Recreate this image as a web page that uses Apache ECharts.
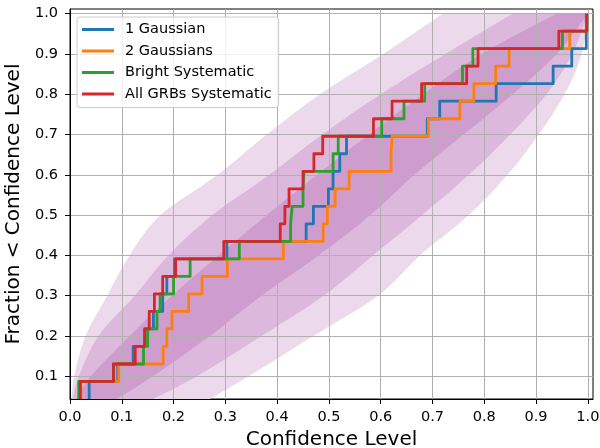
<!DOCTYPE html>
<html>
<head>
<meta charset="utf-8">
<script src="https://cdn.jsdelivr.net/npm/echarts@6/dist/echarts.min.js"></script>
<style>
    html, body { margin: 0; padding: 0; background: #fff; }
    #chart { width: 600px; height: 448px; }
</style>
</head>
<body>
<div id="chart"></div>
<script>
    // fraction of GRBs (y value of every step level)
    var fractions = [0.0435, 0.087, 0.1304, 0.1739, 0.2174, 0.2609, 0.3043, 0.3478, 0.3913, 0.4348, 0.4783, 0.5217,
        0.5652, 0.6087, 0.6522, 0.6957, 0.7391, 0.7826, 0.8261, 0.8696, 0.913, 0.9565, 1.0];

    // confidence level where each curve reaches the matching fraction
    var oneGaussian = [0.037, 0.037, 0.092, 0.122, 0.145, 0.161, 0.179, 0.187, 0.202, 0.303, 0.456, 0.470,
        0.499, 0.508, 0.521, 0.534, 0.690, 0.714, 0.823, 0.933, 0.969, 0.997, 0.997];
    var twoGaussians = [0.021, 0.021, 0.094, 0.180, 0.187, 0.197, 0.229, 0.255, 0.304, 0.412, 0.489, 0.497,
        0.512, 0.539, 0.620, 0.622, 0.692, 0.753, 0.780, 0.822, 0.848, 0.965, 0.998];
    var brightSystematic = [0.017, 0.017, 0.084, 0.142, 0.150, 0.168, 0.174, 0.200, 0.232, 0.327, 0.426, 0.429,
        0.450, 0.452, 0.508, 0.518, 0.602, 0.645, 0.685, 0.758, 0.778, 0.951, 0.998];
    var allGrbsSystematic = [0.020, 0.020, 0.084, 0.126, 0.144, 0.153, 0.163, 0.179, 0.204, 0.297, 0.406, 0.415,
        0.423, 0.450, 0.471, 0.488, 0.586, 0.622, 0.679, 0.766, 0.788, 0.944, 0.998];

    var seriesNames = ['1 Gaussian', '2 Gaussians', 'Bright Systematic', 'All GRBs Systematic'];
    var seriesColors = ['#1f77b4', '#ff7f0e', '#2ca02c', '#d62728'];

    var xTicks = [0, 0.1, 0.2, 0.3, 0.4, 0.5, 0.6, 0.7, 0.8, 0.9, 1.0];
    var yTicks = [0.1, 0.2, 0.3, 0.4, 0.5, 0.6, 0.7, 0.8, 0.9, 1.0];

    // shaded bands: left / right edge (confidence level) at these fractions
    var bandLevels = [0.0435, 0.1, 0.2, 0.3, 0.4, 0.5, 0.6, 0.7, 0.8, 0.9, 1.0];
    var outerLeft = [0.003, 0.008, 0.030, 0.072, 0.115, 0.175, 0.285, 0.380, 0.483, 0.605, 0.720];
    var outerRight = [0.270, 0.345, 0.470, 0.595, 0.676, 0.770, 0.845, 0.905, 0.955, 0.988, 1.0];
    var midLeft = [0.005, 0.017, 0.055, 0.125, 0.190, 0.275, 0.385, 0.487, 0.600, 0.725, 0.855];
    var midRight = [0.160, 0.245, 0.370, 0.490, 0.585, 0.680, 0.770, 0.850, 0.920, 0.970, 1.0];
    var innerLeft = [0.012, 0.040, 0.115, 0.197, 0.287, 0.380, 0.477, 0.577, 0.682, 0.795, 0.940];
    var innerRight = [0.090, 0.160, 0.270, 0.370, 0.480, 0.580, 0.665, 0.760, 0.855, 0.940, 1.0];

    var font = 'DejaVu Sans';

    function pairs(xs) {
        return xs.map(function (x, i) { return [x, fractions[i]]; });
    }

    // catmull-rom through pixel points so the band edges come out smooth
    function smoothEdge(pts) {
        var out = [];
        var n = pts.length;
        for (var i = 0; i < n - 1; i++) {
            var p0 = pts[Math.max(i - 1, 0)], p1 = pts[i], p2 = pts[i + 1], p3 = pts[Math.min(i + 2, n - 1)];
            for (var s = 0; s < 10; s++) {
                var t = s / 10, t2 = t * t, t3 = t2 * t;
                out.push([
                    0.5 * (2 * p1[0] + (-p0[0] + p2[0]) * t + (2 * p0[0] - 5 * p1[0] + 4 * p2[0] - p3[0]) * t2 + (-p0[0] + 3 * p1[0] - 3 * p2[0] + p3[0]) * t3),
                    0.5 * (2 * p1[1] + (-p0[1] + p2[1]) * t + (2 * p0[1] - 5 * p1[1] + 4 * p2[1] - p3[1]) * t2 + (-p0[1] + 3 * p1[1] - 3 * p2[1] + p3[1]) * t3)
                ]);
            }
        }
        out.push(pts[n - 1]);
        return out;
    }

    function bandSeries(left, right, color) {
        return {
            type: 'custom',
            coordinateSystem: 'cartesian2d',
            silent: true,
            clip: true,
            z: 1,
            data: [[0.5, 0.5]],
            renderItem: function (params, api) {
                var l = [], r = [];
                for (var i = 0; i < bandLevels.length; i++) {
                    l.push(api.coord([left[i], bandLevels[i]]));
                    r.push(api.coord([right[i], bandLevels[i]]));
                }
                var pts = smoothEdge(l).concat(smoothEdge(r).reverse());
                return { type: 'polygon', shape: { points: pts }, style: { fill: color } };
            }
        };
    }

    function stepSeries(name, xs, color) {
        return {
            name: name,
            type: 'line',
            step: 'end',
            data: pairs(xs),
            symbol: 'none',
            clip: true,
            z: 5,
            color: color,
            lineStyle: { width: 2.8, color: color, join: 'round' }
        };
    }

    var chart = echarts.init(document.getElementById('chart'));

    var option = {
        animation: false,
        textStyle: { fontFamily: font },
        grid: {
            left: 70, right: 7, top: 9, bottom: 49,
            outerBoundsMode: 'none',
            containLabel: false,
            show: true, borderColor: '#000', borderWidth: 1, backgroundColor: '#fff'
        },
        legend: {
            data: seriesNames,
            orient: 'vertical',
            left: 77, top: 17,
            z: 10,
            icon: 'rect',
            itemWidth: 32, itemHeight: 3,
            itemGap: 6.5,
            padding: [5, 7, 6, 5],
            backgroundColor: 'rgba(255,255,255,0.8)',
            borderColor: '#cccccc', borderWidth: 1, borderRadius: 3,
            textStyle: { fontFamily: font, fontSize: 14.5, color: '#000', lineHeight: 15, padding: [0, 0, 0, 6] }
        },
        xAxis: {
            type: 'value',
            min: 0, max: 1.01,
            z: 3,
            name: 'Confidence Level',
            nameLocation: 'middle',
            nameGap: 28,
            nameTextStyle: { fontFamily: font, fontSize: 20, color: '#000' },
            axisLine: { lineStyle: { color: '#000', width: 1 } },
            axisTick: { customValues: xTicks, length: 5, lineStyle: { color: '#000' } },
            axisLabel: {
                customValues: xTicks, margin: 11, fontSize: 14.5, color: '#000', fontFamily: font,
                formatter: function (v) { return v.toFixed(1); }
            },
            splitLine: { show: true, lineStyle: { color: '#b0b0b0', width: 1 } }
        },
        yAxis: {
            type: 'value',
            min: 0.0435, max: 1.0115,
            z: 3,
            name: 'Fraction < Confidence Level',
            nameLocation: 'middle',
            nameGap: 40,
            nameTextStyle: { fontFamily: font, fontSize: 20, color: '#000' },
            axisLine: { show: true, lineStyle: { color: '#000', width: 1 } },
            axisTick: { show: true, customValues: yTicks, length: 5, lineStyle: { color: '#000' } },
            axisLabel: {
                customValues: yTicks, margin: 12, fontSize: 14.5, color: '#000', fontFamily: font,
                formatter: function (v) { return v.toFixed(1); }
            },
            splitLine: { show: true, lineStyle: { color: '#b0b0b0', width: 1 } }
        },
        series: [
            bandSeries(outerLeft, outerRight, '#ecd9ec'),
            bandSeries(midLeft, midRight, '#dcb8dc'),
            bandSeries(innerLeft, innerRight, '#ce9dce'),
            stepSeries(seriesNames[0], oneGaussian, seriesColors[0]),
            stepSeries(seriesNames[1], twoGaussians, seriesColors[1]),
            stepSeries(seriesNames[2], brightSystematic, seriesColors[2]),
            stepSeries(seriesNames[3], allGrbsSystematic, seriesColors[3])
        ]
    };

    chart.setOption(option);
</script>
</body>
</html>
